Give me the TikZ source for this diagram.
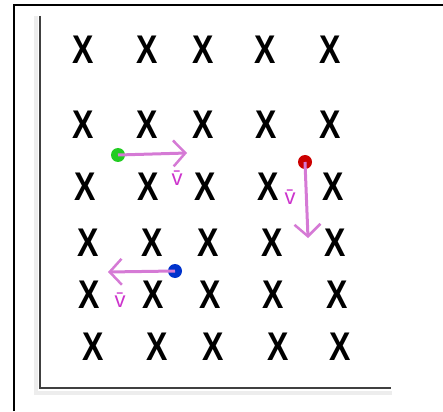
\documentclass[tikz,border=0pt]{standalone}
\usepackage{fontspec}
\setmainfont{Liberation Sans}
\usetikzlibrary{arrows.meta}
\definecolor{arrowmag}{HTML}{D57AD5}
\definecolor{labmag}{HTML}{CC33CC}
\definecolor{dotgreen}{HTML}{22CC22}
\definecolor{dotred}{HTML}{CC0000}
\definecolor{dotblue}{HTML}{0033CC}
\tikzset{
  cross/.style={inner sep=0pt, font=\fontsize{40}{40}\selectfont\bfseries, xscale=0.8},
  pt/.style={circle, inner sep=0pt, minimum size=14pt},
  vec/.style={draw=arrowmag, line width=3pt, -{Straight Barb[length=12pt,width=26pt,line width=2.5pt]}},
  vlab/.style={text=labmag, inner sep=0pt, font=\fontsize{22}{22}\selectfont},
}
\begin{document}
\begin{tikzpicture}[x=1pt,y=-1pt]
\useasboundingbox (0,0) rectangle (443,411);
% outer frame
\draw[line width=2pt] (14,411) -- (14,5) -- (443,5);
% axis shadows
\fill[black!7] (34,16) rectangle (38,392);
\fill[black!7] (34,391) rectangle (392,395);
% axes
\draw[line width=2pt, black!75] (40,16) -- (40,388) -- (391,388);
% crosses
\foreach \r/\yy/\a/\b/\c/\d/\e in {1/50/83/147/203/265/330, 2/125/83/147/203/266/330, 3/187/85/148/205/268/333, 4/243/88/152/208/272/335, 5/295/89/153/210/273/337, 6/347/93/157/213/278/340}{
  \node[cross] (x\r-1) at (\a,\yy) {X};
  \node[cross] (x\r-2) at (\b,\yy) {X};
  \node[cross] (x\r-3) at (\c,\yy) {X};
  \node[cross] (x\r-4) at (\d,\yy) {X};
  \node[cross] (x\r-5) at (\e,\yy) {X};
}
% points
\node[pt, fill=dotgreen] (g) at (118,155) {};
\node[pt, fill=dotred] (r) at (305,162) {};
\node[pt, fill=dotblue] (b) at (175,271) {};
\coordinate (gt) at (187,153);
\coordinate (rt) at (308,238);
\coordinate (bt) at (108,272);
\draw[vec] (g.center) -- (gt);
\draw[vec] (r.center) -- (rt);
\draw[vec] (b.center) -- (bt);
% labels
\node[vlab] (lg) at (177,178) {\={v}};
\node[vlab] (lr) at (290,197) {\={v}};
\node[vlab] (lb) at (120,300) {\={v}};
\end{tikzpicture}
\end{document}
